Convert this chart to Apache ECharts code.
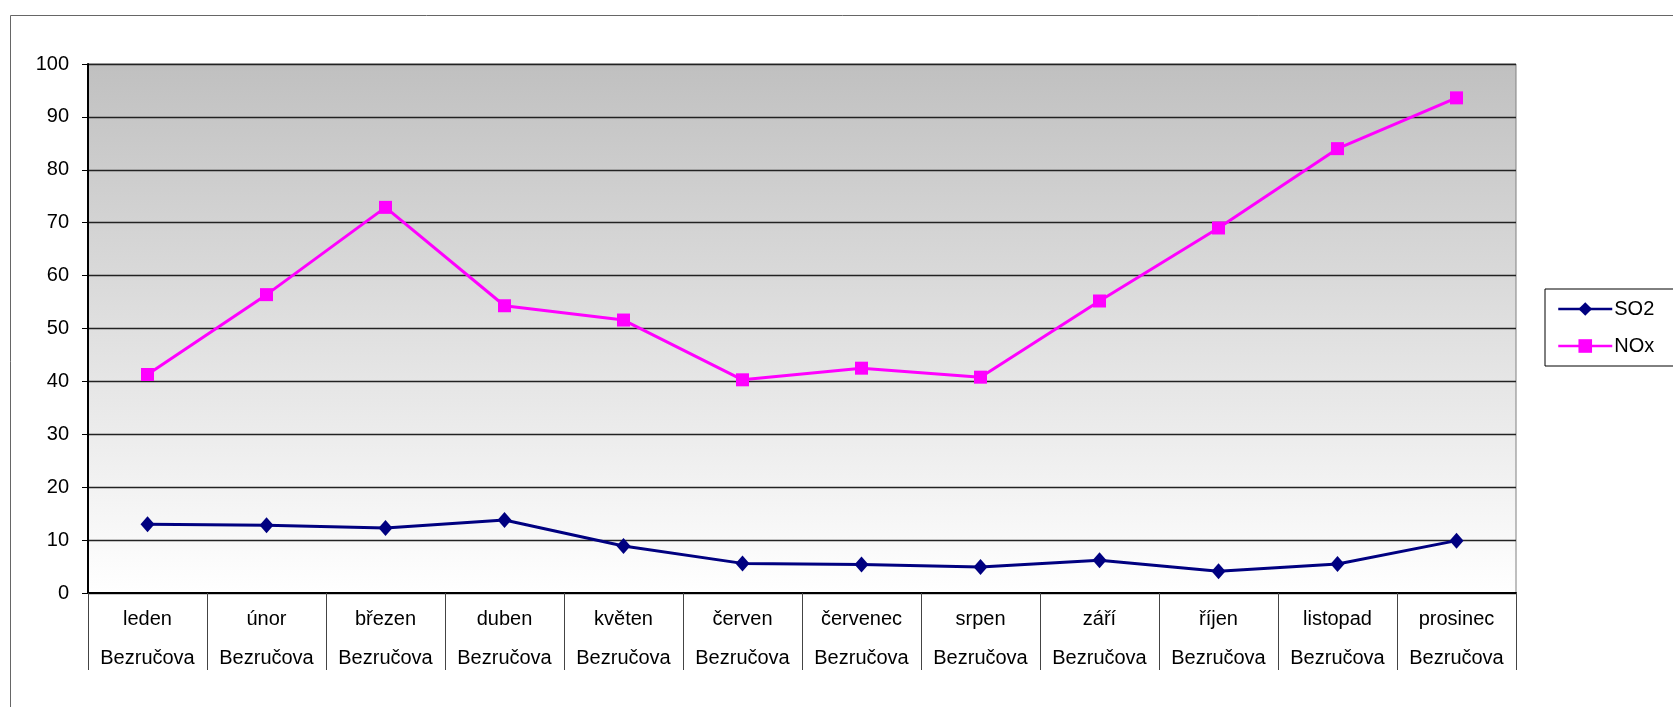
<!DOCTYPE html>
<html>
<head>
<meta charset="utf-8">
<title>SO2 a NOx - Bezručova</title>
<script src="https://cdn.jsdelivr.net/npm/echarts@6/dist/echarts.min.js"></script>
<style>
  html, body { margin: 0; padding: 0; background: #fff; }
  #chart { width: 1673px; height: 707px; }
</style>
</head>
<body>
<div id="chart"></div>
<script>
  // hodnoty
  const months = ['leden', 'únor', 'březen', 'duben', 'květen', 'červen', 'červenec', 'srpen', 'září', 'říjen', 'listopad', 'prosinec'];
  const station = 'Bezručova';
  const so2 = [13.0, 12.8, 12.3, 13.8, 8.9, 5.6, 5.4, 4.9, 6.2, 4.1, 5.5, 9.9];
  const nox = [41.3, 56.4, 72.9, 54.3, 51.6, 40.3, 42.5, 40.8, 55.2, 69.0, 84.0, 93.6];
  const yTicks = [0, 10, 20, 30, 40, 50, 60, 70, 80, 90, 100];

  const categories = months.map(m => m + '\n' + station);
  const font = "'Liberation Sans', Arial, sans-serif";

  let myChart = echarts.init(document.getElementById('chart'), null, {renderer: 'canvas'});

  let option = {
    animation: false,
    backgroundColor: '#ffffff',
    textStyle: { fontFamily: font },
    // ramecek celeho grafu (vidět je jen horní a levá strana)
    graphic: [{
      type: 'rect',
      silent: true,
      z: -10,
      shape: { x: 10.5, y: 15.5, width: 1700, height: 800 },
      style: { fill: 'none', stroke: '#666', lineWidth: 1 }
    }],
    grid: {
      left: 88,
      top: 64,
      right: 157,
      bottom: 114,
      outerBoundsMode: 'none',
      show: true,
      borderColor: '#808080',
      borderWidth: 1,
      backgroundColor: {
        type: 'linear', x: 0, y: 0, x2: 0, y2: 1,
        colorStops: [
          { offset: 0, color: '#c0c0c0' },
          { offset: 1, color: '#ffffff' }
        ]
      }
    },
    legend: {
      orient: 'vertical',
      left: 1545,
      top: 289,
      padding: [10, 40, 10, 12],
      itemWidth: 54,
      itemHeight: 17,
      itemGap: 17,
      borderColor: '#000',
      borderWidth: 1,
      backgroundColor: '#fff',
      lineStyle: { width: 2.5 },
      textStyle: { fontFamily: font, fontSize: 20, color: '#000', padding: [0, 0, 0, -3] },
      data: ['SO2', 'NOx']
    },
    xAxis: {
      type: 'category',
      data: categories,
      boundaryGap: true,
      axisLine: { lineStyle: { color: '#000', width: 2 } },
      axisTick: { show: true, interval: 0, length: 77, lineStyle: { color: '#444', width: 1 } },
      axisLabel: {
        interval: 0,
        margin: 7,
        color: '#000',
        fontFamily: font,
        fontSize: 20,
        lineHeight: 39
      },
      splitLine: { show: false }
    },
    yAxis: {
      type: 'value',
      min: yTicks[0],
      max: yTicks[yTicks.length - 1],
      interval: 10,
      axisLine: { show: true, lineStyle: { color: '#000', width: 2 } },
      axisTick: { show: true, length: 6, lineStyle: { color: '#000' } },
      axisLabel: { margin: 19, color: '#000', fontFamily: font, fontSize: 20 },
      splitLine: { show: true, lineStyle: { color: '#222', width: 1.3 } }
    },
    series: [
      {
        name: 'SO2',
        type: 'line',
        data: so2,
        color: '#000080',
        symbol: 'diamond',
        symbolSize: [14, 16],
        lineStyle: { width: 3, color: '#000080' },
        itemStyle: { color: '#000080' }
      },
      {
        name: 'NOx',
        type: 'line',
        data: nox,
        color: '#ff00ff',
        symbol: 'rect',
        symbolSize: 13,
        lineStyle: { width: 3, color: '#ff00ff' },
        itemStyle: { color: '#ff00ff' }
      }
    ]
  };

  myChart.setOption(option);
  window.addEventListener('resize', function() { myChart.resize() });
</script>
</body>
</html>
